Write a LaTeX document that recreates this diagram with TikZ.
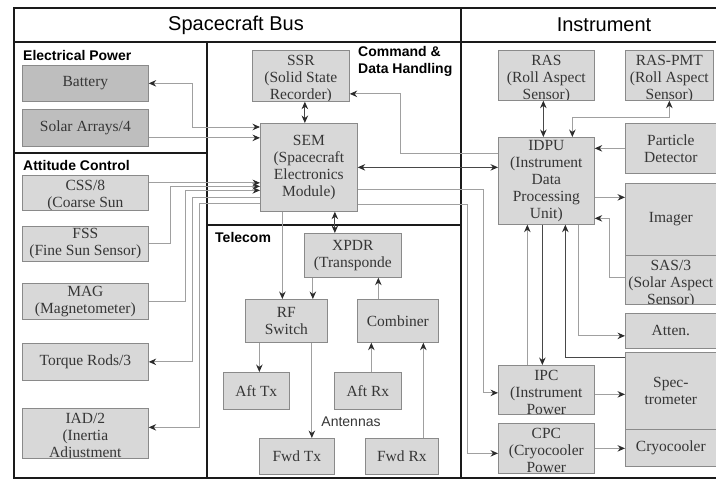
\documentclass[tikz,border=0pt]{standalone}
\usepackage{fontspec}
\setmainfont{Liberation Serif}
\setsansfont{Liberation Sans}
\usetikzlibrary{arrows.meta}

\definecolor{boxfill}{HTML}{D8D8D8}
\definecolor{pwrfill}{HTML}{BEBEBE}
\definecolor{boxline}{HTML}{8A8A8A}
\definecolor{linegray}{HTML}{A0A0A0}
\definecolor{darkline}{HTML}{484848}
\definecolor{tipgray}{HTML}{2C2C2C}
\definecolor{txtgray}{HTML}{363636}
\definecolor{framecol}{HTML}{1A1A1A}

\newcommand\boxfont{\fontsize{15.5}{17}\selectfont}
\newcommand\secfont{\sffamily\bfseries\fontsize{14}{17.5}\selectfont}

\tikzset{
  unit/.style={draw=boxline, fill=boxfill, line width=0.7pt, inner sep=1pt,
    font=\boxfont, text=txtgray, align=center, anchor=north west},
  cut/.style={unit, path picture={\node[draw=none, fill=none, inner sep=0pt,
    minimum width=0pt, minimum height=0pt, font=\boxfont, text=txtgray,
    align=center, anchor=north] at ([yshift=-4.5pt]path picture bounding box.north) {#1};}},
  sz/.style 2 args={minimum width=#1pt, minimum height=#2pt},
  link/.style={draw=linegray, line width=0.9pt},
  dlink/.style={draw=darkline, line width=0.9pt},
  frame/.style={draw=framecol, line width=2.6pt},
  sect/.style={font=\secfont, text=black, inner sep=0pt, anchor=west},
}

\begin{document}
\begin{tikzpicture}[x=1pt,y=-1pt,>={Stealth[length=7.5pt,width=6.5pt,inset=2.5pt,color=tipgray]}]
  \useasboundingbox (0,0) rectangle (716,480);

  % frame and sections
  \draw[frame] (716,8) -- (14,8) -- (14,478) -- (716,478);
  \draw[frame] (14,42) -- (716,42);
  \draw[frame] (461,8) -- (461,478);
  \draw[frame] (207,42) -- (207,478);
  \draw[frame] (14,153) -- (207,153);
  \draw[frame] (207,225) -- (461,225);

  \node[font=\sffamily\fontsize{20}{24}\selectfont] (bus) at (236,25) {Spacecraft Bus};
  \node[font=\sffamily\fontsize{20}{24}\selectfont] (instr) at (604,25) {Instrument};

  \node[sect] (eps) at (23,55) {Electrical Power};
  \node[sect] (acs) at (23,165) {Attitude Control};
  \node[sect, anchor=north west, align=left] (cdh) at (358,46) {Command \&\\Data Handling};
  \node[sect] (tel) at (215,237) {Telecom};

  % electrical power
  \node[unit, sz={126}{36}, fill=pwrfill] (bat) at (22,65) {Battery};
  \node[unit, sz={126}{37}, fill=pwrfill] (solar) at (22,109) {Solar Arrays/4};

  % attitude control
  \node[cut={CSS/8\\(Coarse Sun}, sz={126}{35}] (css) at (22,175) {};
  \node[unit, sz={126}{35}] (fss) at (22,226) {FSS\\(Fine Sun Sensor)};
  \node[unit, sz={126}{36}] (mag) at (22,283) {MAG\\(Magnetometer)};
  \node[unit, sz={126}{37}] (torque) at (22,343) {Torque Rods/3};
  \node[cut={IAD/2\\(Inertia\\Adjustment}, sz={126}{50}] (iad) at (22,408) {};

  % command & data handling
  \node[cut={SSR\\(Solid State\\Recorder)}, sz={97}{51}] (ssr) at (252,50) {};
  \node[unit, sz={97}{88}] (sem) at (260,123) {SEM\\(Spacecraft\\Electronics\\Module)};

  % telecom
  \node[unit, sz={97}{44}] (xpdr) at (304,233) {XPDR\\(Transponde};
  \node[unit, sz={82}{43}] (rfsw) at (245,299) {RF\\Switch};
  \node[unit, sz={81}{43}] (comb) at (357,299) {Combiner};
  \node[unit, sz={66}{37}] (afttx) at (223,372) {Aft Tx};
  \node[unit, sz={67}{37}] (aftrx) at (334,372) {Aft Rx};
  \node[unit, sz={75}{36}] (fwdtx) at (259,438) {Fwd Tx};
  \node[unit, sz={73}{36}] (fwdrx) at (365,438) {Fwd Rx};
  \node[font=\sffamily\fontsize{14}{16}\selectfont, text=txtgray] (ant) at (351,422) {Antennas};

  % instrument
  \node[cut={RAS\\(Roll Aspect\\Sensor)}, sz={96}{50}] (ras) at (498,50) {};
  \node[cut={RAS-PMT\\(Roll Aspect\\Sensor)}, sz={88}{50}] (raspmt) at (625,50) {};
  \node[unit, sz={96}{87}] (idpu) at (498,137) {IDPU\\(Instrument\\Data\\Processing\\Unit)};
  \node[unit, sz={91}{50}] (partdet) at (625,123) {Particle\\Detector};
  \node[unit, sz={91}{72}] (imager) at (625,183) {Imager};
  \node[cut={SAS/3\\(Solar Aspect\\Sensor)}, sz={91}{49}] (sas) at (625,255) {};
  \node[unit, sz={91}{35}] (atten) at (625,313) {Atten.};
  \node[unit, sz={91}{77}] (spec) at (625,352) {Spec-\\trometer};
  \node[unit, sz={91}{37}] (cryo) at (625,429) {Cryocooler};
  \node[cut={IPC\\(Instrument\\Power}, sz={96}{49}] (ipc) at (498,365) {};
  \node[cut={CPC\\(Cryocooler\\Power}, sz={96}{50}] (cpc) at (498,423) {};

  % power and attitude links
  \draw[link,<->] (bat.east) -- ++(44,0) |- ([yshift=-4pt]sem.north west);
  \draw[link,->] ([yshift=-10pt]solar.east) -- ([yshift=-10pt]solar.east -| sem.west);
  \draw[link,->] ([yshift=10pt]css.east) -- ([yshift=10pt]css.east -| sem.west);
  \draw[link,->] (fss.east) -- ++(22,0) |- ([yshift=-19pt]sem.west);
  \draw[link,->] (mag.east) -- ++(37,0) |- ([yshift=-23pt]sem.west);
  \draw[link,->] ([yshift=-30pt]sem.west) -| ([xshift=44pt]torque.east) -- (torque.east);
  \draw[link,->] ([yshift=-36pt]sem.west) -| ([xshift=51pt,yshift=6pt]iad.east) -- ([yshift=6pt]iad.east);

  % C&DH links
  \draw[dlink,<->] ([xshift=4pt]ssr.south) -- ([xshift=4pt]ssr.south |- sem.north);
  \draw[link,->] ([yshift=-16pt]idpu.north west) -| ([xshift=51pt,yshift=-18pt]ssr.east) -- ([yshift=-18pt]ssr.east);
  \draw[dlink,<->] (sem.east) -- (sem.east -| idpu.west);
  \draw[link,->] ([yshift=-22pt]sem.east) -| ([xshift=-15pt,yshift=-3pt]ipc.west) -- ([yshift=-3pt]ipc.west);
  \draw[link,->] ([yshift=-37pt]sem.east) -| ([xshift=-31pt,yshift=-5pt]cpc.west) -- ([yshift=-5pt]cpc.west);

  % telecom links
  \draw[link,->] ([xshift=-4pt]rfsw.north |- sem.south) -- ([xshift=-4pt]rfsw.north);
  \draw[dlink,<->] ([xshift=-18pt]xpdr.north |- sem.south) -- ([xshift=-18pt]xpdr.north);
  \draw[link,->] ([xshift=-40pt]xpdr.south) -- ([xshift=-40pt]xpdr.south |- rfsw.north);
  \draw[link,->] ([xshift=-19.5pt]comb.north) -- ([xshift=-19.5pt]comb.north |- xpdr.south);
  \draw[link,->] ([xshift=3pt]afttx.north |- rfsw.south) -- ([xshift=3pt]afttx.north);
  \draw[link,->] ([xshift=15pt]fwdtx.north |- rfsw.south) -- ([xshift=15pt]fwdtx.north);
  \draw[link,->] ([xshift=3.5pt]aftrx.north) -- ([xshift=3.5pt]aftrx.north |- comb.south);
  \draw[link,->] ([xshift=21.5pt]fwdrx.north) -- ([xshift=21.5pt]fwdrx.north |- comb.south);

  % instrument links
  \draw[dlink,<->] ([xshift=-3pt]ras.south) -- ([xshift=-3pt]ras.south |- idpu.north);
  \draw[link,<->] (raspmt.south) -- ++(0,17) -| ([xshift=26pt]idpu.north);
  \draw[link,->] (partdet.west) -- (partdet.west -| idpu.east);
  \draw[link,->] ([yshift=22pt]imager.west -| idpu.east) -- ([yshift=22pt]imager.west);
  \draw[link,->] ([yshift=2pt]sas.west) -- ++(-16,0) |- ([yshift=-37.5pt]idpu.east);
  \draw[link,->] ([xshift=32pt]idpu.south) |- ([yshift=-5pt]atten.west);
  \draw[dlink,->] ([yshift=-5pt]spec.north west) -| ([xshift=19pt]idpu.south);
  \draw[link,->] ([xshift=-19pt]idpu.south |- ipc.north) -- ([xshift=-19pt]idpu.south);
  \draw[dlink,->] ([xshift=-4pt]idpu.south) -- ([xshift=-4pt]idpu.south |- ipc.north);
  \draw[link,->] ([yshift=-4.5pt]ipc.east) -- ([yshift=-4.5pt]ipc.east -| spec.west);
  \draw[link,->] (cpc.east) -- (cpc.east -| cryo.west);
\end{tikzpicture}
\end{document}
